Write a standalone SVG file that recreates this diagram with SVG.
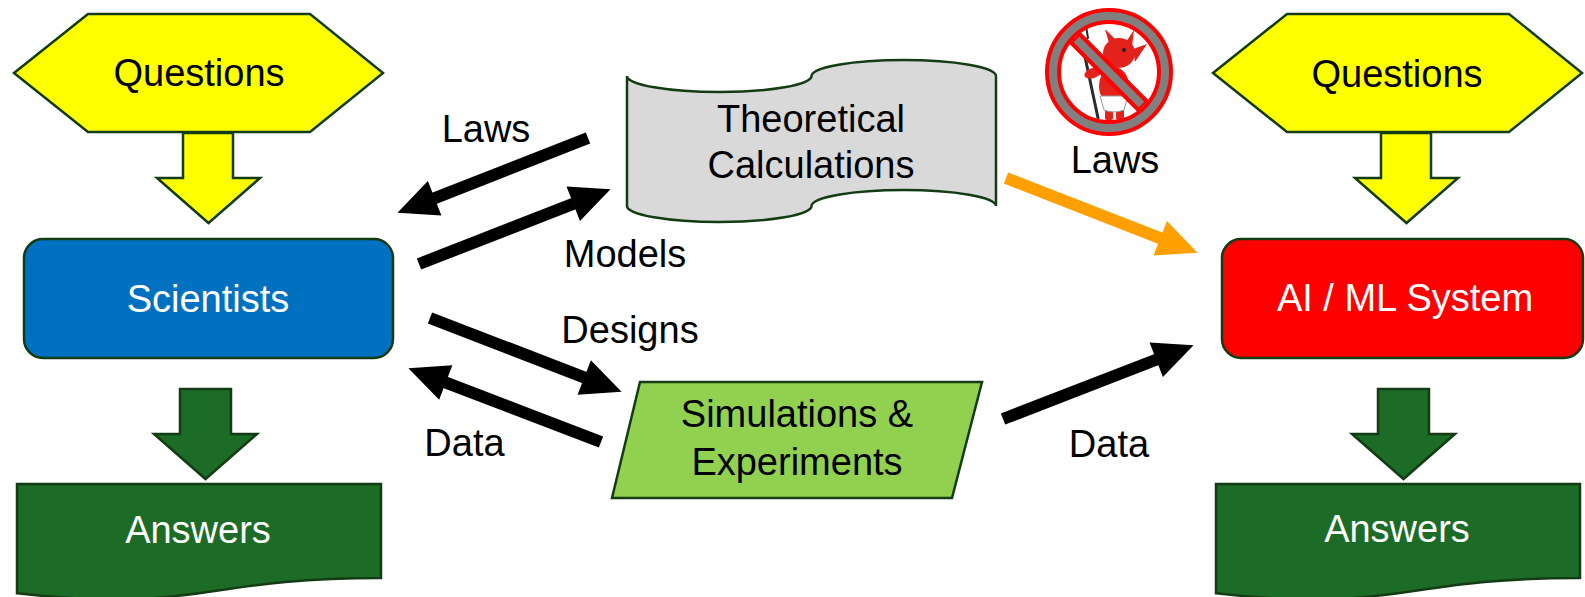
<svg xmlns="http://www.w3.org/2000/svg" width="1585" height="597" viewBox="0 0 1585 597">
  <style>
    text { font-family: "Liberation Sans", Arial, sans-serif; font-size: 38px; text-anchor: middle; }
    .dark { fill: #000; }
    .light { fill: #fff; }
    .outline { stroke: #143c14; stroke-width: 2.5; stroke-linejoin: miter; }
    .yellow { fill: #ffff00; }
    .green { fill: #1c6b26; }
    .flow { fill: none; stroke-width: 12; }
  </style>
  <defs>
    <marker id="head-black" markerUnits="userSpaceOnUse" viewBox="0 0 40 38" markerWidth="40" markerHeight="38" refX="0.5" refY="19" orient="auto" overflow="visible">
      <path d="M0,0.5 L40,19 L0,37.5 Z" fill="#000"/>
    </marker>
    <marker id="head-orange" markerUnits="userSpaceOnUse" viewBox="0 0 40 38" markerWidth="40" markerHeight="38" refX="0.5" refY="19" orient="auto" overflow="visible">
      <path d="M0,0.5 L40,19 L0,37.5 Z" fill="#ffa000"/>
    </marker>
  </defs>

  <rect width="1585" height="597" fill="#fff"/>

  <!-- connectors -->
  <g id="connectors">
    <line class="flow" x1="588" y1="138" x2="434.2" y2="198.4" stroke="#000" marker-end="url(#head-black)"/>
    <line class="flow" x1="419" y1="264" x2="573.7" y2="203.6" stroke="#000" marker-end="url(#head-black)"/>
    <line class="flow" x1="430" y1="318" x2="584.7" y2="377.6" stroke="#000" marker-end="url(#head-black)"/>
    <line class="flow" x1="601" y1="442" x2="445.3" y2="382.3" stroke="#000" marker-end="url(#head-black)"/>
    <line class="flow" x1="1006" y1="178" x2="1160.7" y2="238.4" stroke="#ffa000" marker-end="url(#head-orange)"/>
    <line class="flow" x1="1003" y1="419" x2="1156.7" y2="359.5" stroke="#000" marker-end="url(#head-black)"/>

    <!-- block arrows between stacked nodes -->
    <polygon class="yellow outline" points="183,133 233,133 233,178 260,178 208.5,223 157,178 183,178"/>
    <polygon class="green outline" points="180,389 231,389 231,434 257,434 205.5,479 154,434 180,434"/>
    <polygon class="yellow outline" points="1381,133 1431,133 1431,178 1458,178 1406.5,223 1355,178 1381,178"/>
    <polygon class="green outline" points="1378,389 1429,389 1429,434 1455,434 1403.5,479 1352,434 1378,434"/>

    <text x="486" y="142" class="dark">Laws</text>
    <text x="625" y="267" class="dark">Models</text>
    <text x="630" y="343" class="dark">Designs</text>
    <text x="464.5" y="456" class="dark">Data</text>
    <text x="1115" y="173" class="dark">Laws</text>
    <text x="1109" y="457" class="dark">Data</text>
  </g>

  <!-- left column -->
  <g id="questions-left">
    <polygon class="yellow outline" points="14,73 88,14 310,14 383,73 310,132 88,132"/>
    <text x="199" y="86" class="dark">Questions</text>
  </g>
  <g id="scientists">
    <rect class="outline" x="24" y="239" width="369" height="119" rx="19" fill="#0070c0"/>
    <text x="208" y="312" class="light">Scientists</text>
  </g>
  <g id="answers-left">
    <path class="green outline" d="M17,484 H381 V578 C199,578 199,613.6 17,593.3 Z"/>
    <text x="198" y="543" class="light">Answers</text>
  </g>

  <!-- centre column -->
  <g id="theoretical-calculations">
    <path class="outline" fill="#d9d9d9" d="M627,76 A92.25,16 0 0 0 811.5,76 A92.25,16 0 0 1 996,76 V206 A92.25,16 0 0 0 811.5,206 A92.25,16 0 0 1 627,206 Z"/>
    <text x="811" y="132" class="dark">Theoretical</text>
    <text x="811" y="178" class="dark">Calculations</text>
  </g>
  <g id="simulations-experiments">
    <polygon class="outline" fill="#92d050" points="640,382 982,382 952,498 612,498"/>
    <text x="797" y="427" class="dark">Simulations &amp;</text>
    <text x="797" y="475" class="dark">Experiments</text>
  </g>

  <!-- prohibited devil above the right-hand "Laws" -->
  <g id="no-devil">
    <!-- pitchfork -->
    <g stroke="#2b2b2b" fill="none" stroke-linecap="round">
      <line x1="1081" y1="38" x2="1098" y2="118" stroke-width="3"/>
      <path d="M1074,42 L1088,38 M1074,42 L1071,29 M1081,40 L1079,26 M1088,38 L1086,26" stroke-width="2"/>
    </g>
    <!-- body -->
    <g fill="#e3221c">
      <ellipse cx="1114" cy="86" rx="15" ry="19"/>
      <ellipse cx="1093" cy="73" rx="9" ry="5" transform="rotate(-20 1093 73)"/>
      <ellipse cx="1119" cy="53" rx="16" ry="15"/>
      <path d="M1109,43 L1105,29 L1116,40 Z"/>
      <path d="M1126,42 L1134,30 L1132,47 Z"/>
      <path d="M1133,49 L1147,44 L1135,62 Z"/>
      <rect x="1105" y="106" width="8" height="14" rx="2"/>
      <rect x="1116" y="106" width="8" height="14" rx="2"/>
    </g>
    <path d="M1127,100 Q1137,102 1139,92" fill="none" stroke="#7a1010" stroke-width="2"/>
    <path d="M1100,96 H1128 L1124,110 Q1114,114 1104,110 Z" fill="#fff" stroke="#999" stroke-width="1"/>
    <circle cx="1124" cy="50" r="2" fill="#222"/>
    <!-- prohibition ring and slash -->
    <g fill="none">
      <circle cx="1109" cy="72" r="56" stroke="#ff0000" stroke-width="16"/>
      <line x1="1075" y1="38" x2="1143" y2="106" stroke="#ff0000" stroke-width="16"/>
      <circle cx="1109" cy="72" r="56" stroke="#808080" stroke-width="8"/>
      <line x1="1076.5" y1="39.5" x2="1141.5" y2="104.5" stroke="#808080" stroke-width="8"/>
    </g>
  </g>

  <!-- right column -->
  <g id="questions-right">
    <polygon class="yellow outline" points="1213,73 1287,14 1509,14 1582,73 1509,132 1287,132"/>
    <text x="1397" y="87" class="dark">Questions</text>
  </g>
  <g id="ai-ml-system">
    <rect class="outline" x="1222" y="239" width="361" height="119" rx="19" fill="#ff0000"/>
    <text x="1405" y="311" class="light">AI / ML System</text>
  </g>
  <g id="answers-right">
    <path class="green outline" d="M1216,484 H1580 V578 C1398,578 1398,613.6 1216,593.3 Z"/>
    <text x="1397" y="542" class="light">Answers</text>
  </g>
</svg>
